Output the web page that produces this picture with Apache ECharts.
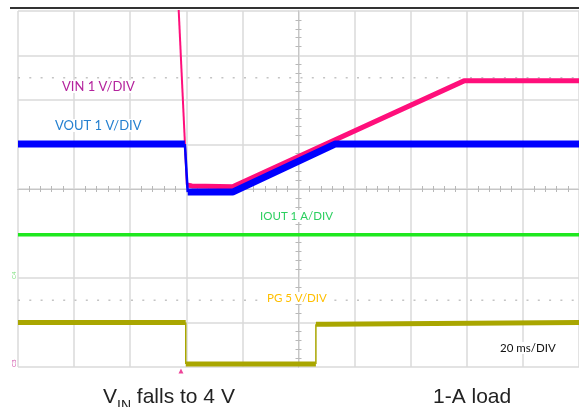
<!DOCTYPE html>
<html>
<head>
<meta charset="utf-8">
<script src="https://cdn.jsdelivr.net/npm/echarts@6/dist/echarts.min.js"></script>
<style>
  html, body { margin: 0; padding: 0; background: #fff; }
  #scope { width: 579px; height: 407px; }
</style>
</head>
<body>
<div id="scope"></div>
<script>
// time in ms from screen centre (20 ms/div), level in divisions from centre
var vinT = [-43.5, -39.8, -38, -23.5, 59, 100];
var vinV = [5.08, 0.09, 0.07, 0.05, 2.43, 2.43];

var voutT = [-100, -40.5, -39.5, -23.5, 13, 100];
var voutV = [1.01, 1.01, -0.07, -0.07, 1.01, 1.01];

var ioutT = [-100, 100];
var ioutV = [-1.03, -1.03];

var pgT = [-100, -40.2, -40.2, 6.2, 6.2, 9.7, 9.7, 100];
var pgV = [-3.0, -3.0, -3.93, -3.93, -3.04, -3.04, -3.0, -3.0];

var markerLevels = [2.5, -2.5];   // dotted cursor levels
var triggerTime = [-41.9];

function pairs(t, v) {
  var out = [];
  for (var i = 0; i < t.length; i++) out.push([t[i], v[i]]);
  return out;
}

// fast edges are drawn thin like on the scope, the slow parts as a thick band
function isEdge(a, b) {
  var dv = Math.abs(b[1] - a[1]);
  if (dv < 0.2) return false;
  var dt = Math.abs(b[0] - a[0]);
  return dt === 0 || dv / dt > 0.5;
}
function slowPart(pts) {
  var out = [pts[0]];
  for (var i = 1; i < pts.length; i++) {
    if (isEdge(pts[i - 1], pts[i])) out.push('-');
    out.push(pts[i]);
  }
  return out;
}
function fastPart(pts) {
  var out = [];
  for (var i = 1; i < pts.length; i++) {
    if (isEdge(pts[i - 1], pts[i])) out.push(pts[i - 1], pts[i], '-');
  }
  return out;
}

var myChart = echarts.init(document.getElementById('scope'));

var axisBase = {
  type: 'value',
  axisLabel: { show: false },
  axisTick: { show: false },
  minorTick: { show: true, splitNumber: 5, length: 3, lineStyle: { color: '#b8b8b8', width: 1 } }
};

var series = [];
markerLevels.forEach(function (lv) {
  series.push({
    type: 'line', symbol: 'none', silent: true,
    data: [[-100, lv], [100, lv]],
    lineStyle: { color: '#c4c4c4', width: 1.5, type: [2, 9.3] }
  });
});

function trace(name, pts, color, width, edgeWidth) {
  series.push({
    name: name, type: 'line', symbol: 'none', connectNulls: false,
    data: fastPart(pts),
    lineStyle: { color: color, width: edgeWidth }
  });
  series.push({
    name: name, type: 'line', symbol: 'none', connectNulls: false,
    data: slowPart(pts),
    lineStyle: { color: color, width: width, cap: 'butt' }
  });
}
trace('PG', pairs(pgT, pgV), '#a9a600', 5, 1.5);
trace('IOUT', pairs(ioutT, ioutV), '#1fe81f', 3.5, 1.5);
trace('VIN', pairs(vinT, vinV), '#ff0f7b', 5, 2);
trace('VOUT', pairs(voutT, voutV), '#0000ff', 7, 2.5);

series.push({
  type: 'scatter', clip: false,
  data: triggerTime.map(function (t) { return [t, -4]; }),
  symbol: 'triangle', symbolSize: [5, 5], symbolOffset: [0, 4],
  itemStyle: { color: '#e8157f' }
});

var labelBox = { backgroundColor: '#fff', padding: [0, 2] };

myChart.setOption({
  animation: false,
  grid: { left: 18, top: 11, width: 565, height: 356 },
  xAxis: [
    Object.assign({}, axisBase, {
      min: -100, max: 100, interval: 20,
      axisLine: { onZero: true, lineStyle: { color: '#c6c6c6', width: 1 } },
      splitLine: { show: true, lineStyle: { color: '#dadada', width: 1.5 } }
    }),
    Object.assign({}, axisBase, {
      min: -100, max: 100, interval: 20,
      axisLine: { onZero: true, lineStyle: { color: '#c6c6c6', width: 1 } },
      splitLine: { show: false }
    })
  ],
  yAxis: [
    Object.assign({}, axisBase, {
      min: -4, max: 4, interval: 1,
      axisLine: { onZero: true, lineStyle: { color: '#c6c6c6', width: 1 } },
      splitLine: { show: true, lineStyle: { color: '#dadada', width: 1.5 } }
    }),
    Object.assign({}, axisBase, {
      min: -4, max: 4, interval: 1,
      axisLine: { onZero: true, lineStyle: { color: '#c6c6c6', width: 1 } },
      splitLine: { show: false }
    })
  ],
  series: series,
  graphic: [
    { type: 'rect', z: 100, shape: { x: 10, y: 7, width: 569, height: 2 }, style: { fill: '#333' }, silent: true },
    { type: 'text', z: 100, left: 60, top: 80, style: Object.assign({ text: 'VIN 1 V/DIV', fill: '#b4239d', font: '13px Lato' }, labelBox) },
    { type: 'text', z: 100, left: 53, top: 119, style: Object.assign({ text: 'VOUT 1 V/DIV', fill: '#2580d0', font: '13px Lato' }, labelBox) },
    { type: 'text', z: 100, left: 258, top: 210, style: Object.assign({ text: 'IOUT 1 A/DIV', fill: '#2ccf5f', font: '11.5px Lato' }, labelBox) },
    { type: 'text', z: 100, left: 265, top: 292, style: Object.assign({ text: 'PG 5 V/DIV', fill: '#ffbf00', font: '11.5px Lato' }, labelBox) },
    { type: 'text', z: 100, left: 498, top: 342, style: Object.assign({ text: '20 ms/DIV', fill: '#111', font: '11.5px Lato' }, labelBox) },
    { type: 'text', z: 100, x: 11, y: 279, rotation: Math.PI / 2, style: { text: 'C4', fill: '#7fe07f', font: '6px Lato' } },
    { type: 'text', z: 100, x: 11, y: 367, rotation: Math.PI / 2, style: { text: 'C3', fill: '#d04fa8', font: '6px Lato' } },
    {
      type: 'text', z: 100, left: 103, top: 387,
      style: {
        text: '{a|V}{b|IN}{a| falls to 4 V}',
        fill: '#222',
        rich: {
          a: { fontSize: 21, fontFamily: 'Liberation Sans', lineHeight: 22, verticalAlign: 'top', fill: '#222' },
          b: { fontSize: 14, fontFamily: 'Liberation Sans', lineHeight: 14, padding: [12, 0, 0, 0], verticalAlign: 'top', fill: '#222' }
        }
      }
    },
    { type: 'text', z: 100, left: 433, top: 387, style: { text: '1-A load', fill: '#222', font: '21px "Liberation Sans"' } }
  ]
});
</script>
</body>
</html>
